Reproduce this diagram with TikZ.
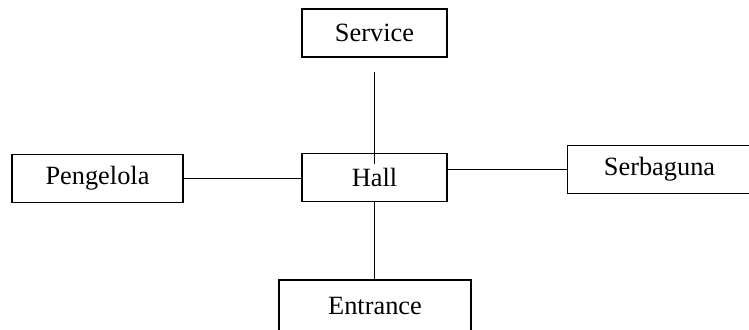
\documentclass[tikz,border=0pt]{standalone}
\usepackage{fontspec}
\setmainfont{Liberation Serif}
\usepackage{tikz}
\usetikzlibrary{positioning, calc}

\tikzset{
    room/.style={draw, line width=0.6pt, inner sep=0pt, minimum height=0.95cm, font=\fontsize{15}{18}\selectfont},
    link/.style={line width=0.6pt}
}

\begin{document}
\begin{tikzpicture}[x=0.02cm, y=-0.02cm]
    \useasboundingbox (0,0) rectangle (749,329);

    % Central hall
    \node[room, minimum width=2.9cm] (Hall) at (374.5,177.5) {Hall};

    % Surrounding rooms
    \node[room, minimum width=2.9cm, minimum height=0.96cm] (Service) at (374.5,33) {Service};
    \node[room, minimum width=3.42cm] (Pengelola) at (97.5,178.5) {Pengelola};
    \node[room, minimum width=3.7cm] (Serbaguna) at (659.5,169.5) {Serbaguna};
    \node[room, minimum width=3.84cm, minimum height=1.04cm] (Entrance) at (375,306) {Entrance};

    % Connections
    \draw[link] ([yshift=-0.28cm]Service.south) -- ([yshift=-0.22cm]Hall.north);
    \draw[link] (Pengelola.east) -- (Pengelola.east -| Hall.west);
    \draw[link] (Serbaguna.west) -- (Serbaguna.west -| Hall.east);
    \draw[link] (Hall.south) -- (Hall.south |- Entrance.north);
\end{tikzpicture}
\end{document}
